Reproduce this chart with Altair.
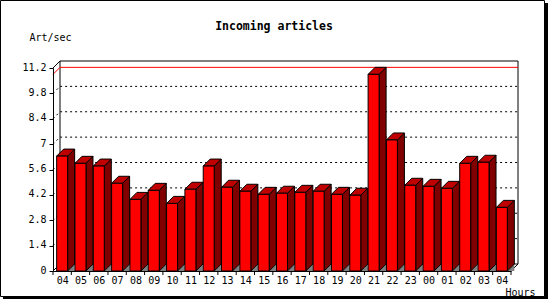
import altair as alt
import pandas as pd

# ---- data ----
hours = ["04", "05", "06", "07", "08", "09", "10", "11", "12", "13", "14", "15",
         "16", "17", "18", "19", "20", "21", "22", "23", "00", "01", "02", "03", "04"]
rate = [6.34, 5.94, 5.79, 4.84, 3.95, 4.45, 3.73, 4.51, 5.79, 4.62, 4.40, 4.23,
        4.29, 4.34, 4.40, 4.23, 4.18, 10.85, 7.23, 4.73, 4.67, 4.56, 5.94, 6.00, 3.51]
y_ticks = [0, 1.4, 2.8, 4.2, 5.6, 7, 8.4, 9.8, 11.2]
title_text = "Incoming articles"
y_title = "Art/sec"
x_title = "Hours"

# ---- geometry / style ----
FONT = "DejaVu Sans Mono"
PAD_L, PAD_T, PAD_R, PAD_B = 53, 61, 30, 29
W, H = 550 - PAD_L - PAD_R, 300 - PAD_T - PAD_B
FRONT_W = 458
FRONT_TOP = 7
DEPTH = 7
n = len(hours)
y_max = y_ticks[-1]
DX = DEPTH * n / FRONT_W
DY = DEPTH * y_max / (H - FRONT_TOP)
B0, B1 = 0.2, 0.8

xs = alt.Scale(domain=[0, n], range=[0, FRONT_W], nice=False, zero=False)
ys = alt.Scale(domain=[0, y_max], range=[H, FRONT_TOP], nice=False, zero=False)

label_expr = "[" + ",".join("'%s'" % h for h in hours) + "][round(datum.value - 0.5)]"
x_axis = alt.Axis(
    values=[i + 0.5 for i in range(n)], labelExpr=label_expr, ticks=False,
    grid=False, domainColor="black", domainWidth=1, labelFont=FONT,
    labelFontSize=10, labelColor="black", labelPadding=4, labelFlush=False,
    labelOverlap=False, title=x_title, titleFont=FONT, titleFontSize=10,
    titleFontWeight="normal", titleColor="black", titleX=452, titleY=21,
    titleAlign="left", titleBaseline="middle", zindex=1)
y_axis = alt.Axis(
    values=y_ticks, format=".3~g", grid=False, tickSize=4, tickColor="black",
    domainColor="black", domainWidth=1, labelFont=FONT, labelFontSize=10,
    labelColor="black", labelPadding=3, labelFlush=False, labelOverlap=False,
    labelOffset=-1, title=y_title, titleFont=FONT,
    titleFontSize=10, titleFontWeight="normal", titleColor="black",
    titleAngle=0, titleX=-24, titleY=-24, titleAlign="left",
    titleBaseline="middle", zindex=1)


def X(f):
    return alt.X(f, type="quantitative", scale=xs, axis=x_axis)


def Y(f):
    return alt.Y(f, type="quantitative", scale=ys, axis=y_axis)


# ---- tables built from the arrays ----
front = pd.DataFrame({"i": range(n), "hour": hours, "v": rate})
front["x0"] = front["i"] + B0
front["x1"] = front["i"] + B1

side_rows, top_rows, floor_rows = [], [], []
for i, v in enumerate(rate):
    side_rows += [{"id": i, "x": i + B1, "lo": 0, "hi": v},
                  {"id": i, "x": i + B1 + DX, "lo": DY, "hi": v + DY}]
    top_rows += [{"id": i, "y": v, "xl": i + B0, "xr": i + B1},
                 {"id": i, "y": v + DY, "xl": i + B0 + DX, "xr": i + B1 + DX}]
    floor_rows += [{"id": i, "x": i + B1, "lo": 0, "hi": 0},
                   {"id": i, "x": i + B1 + DX, "lo": 0, "hi": DY}]
side = pd.DataFrame(side_rows)
top = pd.DataFrame(top_rows)
floor = pd.DataFrame(floor_rows)

grid_rows = []
for g, t in enumerate(y_ticks[1:-1]):
    grid_rows += [{"g": g, "px": 0, "py": t}, {"g": g, "px": DX, "py": t + DY},
                  {"g": g, "px": n + DX, "py": t + DY}]
grid = pd.DataFrame(grid_rows)

vmax = max(rate)
maxline = pd.DataFrame({"px": [0, DX, n + DX], "py": [vmax, vmax + DY, vmax + DY]})

edges = pd.DataFrame({"e": [0, 0, 1, 1, 2, 2],
                      "px": [0, DX, 0, DX, n, n + DX],
                      "py": [y_max, y_max + DY, 0, DY, 0, DY]})
backbox = pd.DataFrame({"xa": [DX], "xb": [n + DX], "ya": [DY], "yb": [y_max + DY]})
ticks = pd.DataFrame({"t": list(range(n + 1))})
one = pd.DataFrame({"a": [0]})

# ---- layers ----
shadow = alt.Chart(one).mark_rect(fill="black").encode(
    x=alt.value(3 - PAD_L), x2=alt.value(548 - PAD_L),
    y=alt.value(3 - PAD_T), y2=alt.value(299 - PAD_T))
frame = alt.Chart(one).mark_rect(fill="white", stroke="black", strokeWidth=1).encode(
    x=alt.value(0.5 - PAD_L), x2=alt.value(544.5 - PAD_L),
    y=alt.value(0.5 - PAD_T), y2=alt.value(296.5 - PAD_T))
title = alt.Chart(one).mark_text(text=title_text, font=FONT, fontSize=11.5,
                                 fontWeight="bold", align="center", baseline="middle",
                                 color="black").encode(
    x=alt.value(274 - PAD_L), y=alt.value(27 - PAD_T))

back = alt.Chart(backbox).mark_rect(fill="white", stroke="black", strokeWidth=1).encode(
    x=X("xa"), x2="xb", y=Y("ya"), y2="yb")
edge_lines = alt.Chart(edges).mark_line(color="black", strokeWidth=1).encode(
    x=X("px"), y=Y("py"), detail="e:N")
grid_lines = alt.Chart(grid).mark_line(color="black", strokeWidth=1,
                                       strokeDash=[2, 3]).encode(
    x=X("px"), y=Y("py"), detail="g:N")
red_line = alt.Chart(maxline).mark_line(color="#ff0000", strokeWidth=1).encode(
    x=X("px"), y=Y("py"))

floor_l = alt.Chart(floor).mark_area(fill="#808080", strokeWidth=0).encode(
    x=X("x"), y=Y("hi"), y2="lo", detail="id:N")
side_l = alt.Chart(side).mark_area(fill="#800000", stroke="black", strokeWidth=1).encode(
    x=X("x"), y=Y("hi"), y2="lo", detail="id:N")
top_l = alt.Chart(top).mark_area(orient="horizontal", fill="#c00000", stroke="black",
                                 strokeWidth=1).encode(
    y=Y("y"), x=X("xl"), x2="xr", detail="id:N")
front_l = alt.Chart(front).mark_rect(fill="#ff0000", stroke="black", strokeWidth=1).encode(
    x=X("x0"), x2="x1", y=Y("v"), y2=alt.datum(0))
tick_l = alt.Chart(ticks).mark_rule(color="black", strokeWidth=1).encode(
    x=X("t"), y=alt.value(H), y2=alt.value(H + 4))

chart = alt.layer(
    shadow, frame, title, back, grid_lines, red_line, edge_lines,
    floor_l, side_l, top_l, front_l, tick_l
).properties(
    width=W, height=H,
    autosize=alt.AutoSizeParams(type="none"),
    padding={"left": PAD_L, "top": PAD_T, "right": PAD_R, "bottom": PAD_B},
    background="white",
).configure_view(stroke=None)

chart.save("out.html", embed_options={"renderer": "svg", "actions": False})
